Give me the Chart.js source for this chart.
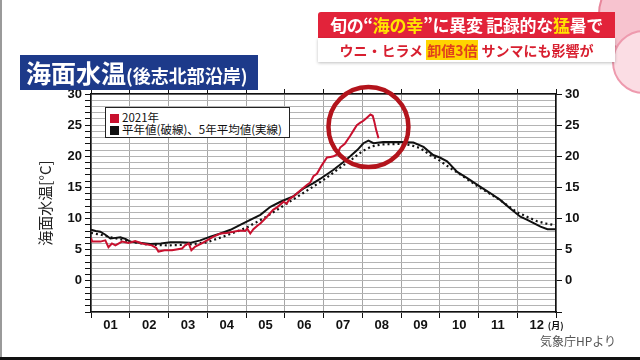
<!DOCTYPE html>
<html lang="ja">
<head>
  <meta charset="UTF-8">
  <title>海面水温（後志北部沿岸）</title>
  <script src="https://cdn.jsdelivr.net/npm/chart.js"></script>
  <style>
    html, body { margin: 0; padding: 0; }
    body {
      width: 640px; height: 360px; overflow: hidden; position: relative;
      background: #fff;
      font-family: 'Noto Sans CJK JP', 'Noto Sans', sans-serif;
    }
    #chart { position: absolute; left: 0; top: 0; }
    .edge-left { position: absolute; left: 0; top: 0; width: 2px; height: 360px; background: #9a9a9a; }
    .edge-bottom { position: absolute; left: 0; top: 357px; width: 640px; height: 3px; background: #111; }
    .deco {
      position: absolute; left: 598px; top: -28px; width: 80px; height: 80px;
      border-radius: 50%; background: #f7c3cf; border: 2px solid #e8879c;
    }
    .deco2 {
      position: absolute; left: 612px; top: 30px; width: 60px; height: 60px;
      border-radius: 50%; background: #fbdde4; border: 2px solid #ee9aae;
    }
    .banner {
      position: absolute; left: 318px; top: 12px; width: 297px; height: 26px;
      background: #e2233a; color: #fff; font-weight: bold; font-size: 17px;
      line-height: 26px; text-align: center; letter-spacing: -0.3px;
      border-radius: 3px 0 0 0;
    }
    .banner .y { color: #ffe600; }
    .sub {
      position: absolute; left: 318px; top: 38px; width: 297px; height: 24px;
      background: #fff; color: #d81f30; font-weight: bold; font-size: 14px;
      line-height: 24px; text-align: center;
      box-shadow: 0 1px 3px rgba(0,0,0,0.25);
    }
    .sub .hl { background: #ffd400; color: #e0401c; padding: 0 1px; }
    .title {
      position: absolute; left: 20px; top: 55px; height: 35px; width: 238px;
      background: #1d3a8a; color: #fff; font-weight: bold; white-space: nowrap;
      line-height: 35px; box-sizing: border-box; padding-left: 6px;
    }
    .title .big { font-size: 25px; }
    .title .small { font-size: 18px; }
    .legend {
      position: absolute; left: 105px; top: 107px; width: 185px; height: 31px;
      box-sizing: border-box; border: 1.5px solid #222; background: #fff;
      font-size: 11.5px; line-height: 12px; color: #111; padding: 3px 0 0 4px;
      white-space: nowrap;
    }
    .legend .sw { display: inline-block; width: 9px; height: 9px; margin-right: 3px; vertical-align: -1px; }
    .source { position: absolute; left: 540px; top: 332px; font-size: 12px; color: #555; }
  </style>
</head>
<body>
  <canvas id="chart" width="640" height="360"></canvas>
  <div class="edge-left"></div>
  <div class="edge-bottom"></div>
  <div class="deco"></div>
  <div class="deco2"></div>
  <div class="banner">旬の“<span class="y">海の幸</span>”に異変 記録的な<span class="y">猛</span>暑で</div>
  <div class="sub">ウニ・ヒラメ <span class="hl">卸値3倍</span> サンマにも影響が</div>
  <div class="title"><span class="big">海面水温</span><span class="small">(後志北部沿岸)</span></div>
  <div class="legend" id="legend"></div>
  <div class="source">気象庁HPより</div>

  <script>
    // month labels (x axis runs 0..12 in month units)
    const months = ['01', '02', '03', '04', '05', '06', '07', '08', '09', '10', '11', '12'];

    // 2021 sea surface temperature (red)
    const redX = [0, 0.03, 0.24, 0.37, 0.45, 0.54, 0.63, 0.8, 0.97, 1.14, 1.32, 1.57, 1.68, 1.74, 1.9, 2.09,
      2.35, 2.43, 2.52, 2.59, 2.69, 2.86, 3.16, 3.34, 3.5, 3.67, 3.85, 3.98, 4.03, 4.11, 4.19, 4.3, 4.37,
      4.54, 4.7, 4.8, 4.97, 5.05, 5.12, 5.23, 5.4, 5.57, 5.66, 5.74, 5.83, 5.95, 6.09, 6.18, 6.26, 6.35,
      6.43, 6.55, 6.69, 6.78, 6.86, 6.95, 7.03, 7.12, 7.21, 7.27, 7.31, 7.36, 7.42];
    const redY = [6.9, 6.3, 6.3, 6.5, 5.4, 6.0, 5.7, 6.3, 6.1, 6.4, 6.0, 5.7, 5.3, 4.7, 4.9, 4.9,
      5.2, 5.7, 6.0, 4.9, 5.5, 6.0, 7.1, 7.6, 7.7, 7.9, 8.1, 8.0, 8.4, 7.6, 8.3, 8.9, 9.2,
      10.3, 11.4, 11.8, 12.7, 12.4, 13.1, 13.6, 14.5, 15.4, 15.8, 16.8, 17.2, 18.5, 19.8, 19.9, 20.0, 20.3,
      21.4, 22.0, 23.3, 24.2, 25.0, 25.4, 25.7, 26.2, 26.7, 26.5, 25.6, 24.2, 22.9];

    // 5-year average (solid black)
    const avgX = [0, 0.12, 0.24, 0.37, 0.5, 0.63, 0.76, 0.9, 1.01, 1.25, 1.53, 1.8, 2.05, 2.3, 2.56,
      2.82, 3.08, 3.34, 3.6, 3.85, 4.11, 4.37, 4.63, 4.89, 5.23, 5.5, 5.74, 5.92, 6.25, 6.5, 6.69, 6.87,
      7.03, 7.16, 7.29, 7.54, 7.98, 8.32, 8.58, 8.83, 9.0, 9.19, 9.45, 9.71, 10.05, 10.3, 10.56, 10.82,
      11.08, 11.26, 11.45, 11.6, 11.78, 12];
    const avgY = [8.2, 8.0, 7.9, 7.4, 6.8, 6.9, 7.0, 6.7, 6.3, 6.1, 5.9, 6.0, 6.2, 6.2, 6.1,
      6.5, 7.1, 7.6, 8.2, 9.0, 9.8, 10.6, 11.9, 12.7, 13.6, 14.9, 15.7, 16.4, 17.8, 19.0, 20.0, 21.0,
      22.1, 22.5, 22.1, 22.3, 22.3, 22.2, 21.5, 20.2, 19.8, 19.2, 17.5, 16.5, 15.1, 14.1, 13.0, 11.6,
      10.3, 9.8, 9.2, 8.7, 8.3, 8.3];

    // normal values (dotted black)
    const normX = [0, 0.25, 0.5, 0.75, 1.0, 1.5, 2.0, 2.5, 3.0, 3.5, 4.0, 4.5, 5.0, 5.5, 6.0, 6.5, 6.75,
      7.0, 7.25, 7.5, 8.0, 8.25, 8.5, 8.75, 9.0, 9.25, 9.5, 10.0, 10.5, 11.0, 11.25, 11.5, 11.75, 12];
    const normY = [7.7, 7.4, 7.0, 6.7, 6.3, 5.8, 5.7, 5.8, 6.2, 7.3, 8.5, 10.2, 12.2, 14.2, 16.2, 18.5, 19.6,
      20.8, 21.6, 21.9, 22.0, 21.8, 21.3, 20.2, 19.3, 18.2, 17.2, 15.1, 13.2, 11.0, 10.3, 9.6, 9.2, 8.9];

    const legendItems = [
      { text: '2021年', color: '#c8102e' },
      { text: '平年値(破線)、5年平均値(実線)', color: '#111' }
    ];

    // highlight circle around the 2021 peak (data units)
    const ringCenter = { x: 7.16, y: 24.7 };

    const toPoints = (xs, ys) => xs.map((x, i) => ({ x: x, y: ys[i] }));

    document.getElementById('legend').innerHTML = legendItems.map(it =>
      `<div><span class="sw" style="background:${it.color}"></span>${it.text}</div>`).join('');

    const tickFont = { family: "'Liberation Sans', Arial, sans-serif", size: 13, weight: 'bold' };

    // red ring + "(月)" suffix after the last month label
    const extras = {
      id: 'extras',
      afterDatasetsDraw(chart) {
        const { ctx, scales } = chart;
        const cx = scales.x.getPixelForValue(ringCenter.x);
        const cy = scales.y.getPixelForValue(ringCenter.y);
        ctx.save();
        ctx.beginPath();
        ctx.arc(cx, cy, 40, 0, Math.PI * 2);
        ctx.strokeStyle = '#b3141c';
        ctx.lineWidth = 4.5;
        ctx.stroke();
        ctx.restore();
      },
      afterDraw(chart) {
        const xm = chart.scales.xm;
        const ctx = chart.ctx;
        ctx.save();
        ctx.font = "bold 9px 'Noto Sans CJK JP'";
        ctx.fillStyle = '#111';
        ctx.textAlign = 'center';
        ctx.textBaseline = 'middle';
        ctx.fillText('(月)', xm.getPixelForTick(months.length - 1) + 19, xm.top + 8);
        ctx.restore();
      }
    };

    new Chart(document.getElementById('chart'), {
      type: 'line',
      data: {
        datasets: [
          {
            label: '2021年',
            data: toPoints(redX, redY),
            borderColor: '#c8102e',
            borderWidth: 2,
            pointRadius: 0,
            xAxisID: 'x', yAxisID: 'y'
          },
          {
            label: '5年平均値',
            data: toPoints(avgX, avgY),
            borderColor: '#111',
            borderWidth: 2,
            pointRadius: 0,
            xAxisID: 'x', yAxisID: 'y'
          },
          {
            label: '平年値',
            data: toPoints(normX, normY),
            borderColor: '#111',
            borderWidth: 2.2,
            borderDash: [2, 3],
            pointRadius: 0,
            xAxisID: 'x', yAxisID: 'y'
          }
        ]
      },
      options: {
        responsive: false,
        animation: false,
        devicePixelRatio: 1,
        layout: { padding: { top: 89, bottom: 18, left: 0, right: 0 } },
        plugins: { legend: { display: false }, tooltip: { enabled: false } },
        scales: {
          x: {
            type: 'linear', position: 'bottom', min: 0, max: 12,
            ticks: { display: false, stepSize: 1 },
            grid: { color: '#a6a6a6', tickColor: '#111', tickLength: 6 },
            border: { color: '#111', width: 1.5 },
            afterFit: s => { s.height = 6; }
          },
          xm: {
            type: 'category', position: 'bottom', labels: months, offset: true,
            grid: { display: false, drawTicks: false },
            border: { display: false },
            ticks: { padding: 0, color: '#111', font: tickFont, autoSkip: false, maxRotation: 0 },
            afterFit: s => { s.height = 24; }
          },
          xt: {
            type: 'linear', position: 'top', min: 0, max: 12,
            ticks: { display: false, stepSize: 1 },
            grid: { drawOnChartArea: false, tickColor: '#111', tickLength: 5 },
            border: { color: '#111', width: 1.5 },
            afterFit: s => { s.height = 5; }
          },
          y: {
            type: 'linear', position: 'left', min: -5, max: 30,
            ticks: {
              stepSize: 1, autoSkip: false, padding: 3, color: '#111', font: tickFont,
              callback: v => (v % 5 === 0 && v >= 0) ? v : ''
            },
            grid: { color: '#b4b4b4', tickColor: '#111', tickLength: 6 },
            border: { color: '#111', width: 1.5 },
            title: {
              display: true, text: '海面水温[°C]', color: '#222',
              font: { family: "'Noto Sans CJK JP'", size: 15 },
              padding: { top: 36, bottom: 0 }
            },
            afterFit: s => { s.width = 91; }
          },
          y2: {
            type: 'linear', position: 'right', min: -5, max: 30,
            ticks: {
              stepSize: 5, padding: 3, color: '#111', font: tickFont,
              callback: v => v >= 0 ? v : ''
            },
            grid: { drawOnChartArea: false, tickColor: '#111', tickLength: 6 },
            border: { color: '#111', width: 1.5 },
            afterFit: s => { s.width = 84; }
          }
        }
      },
      plugins: [extras]
    });
  </script>
</body>
</html>
